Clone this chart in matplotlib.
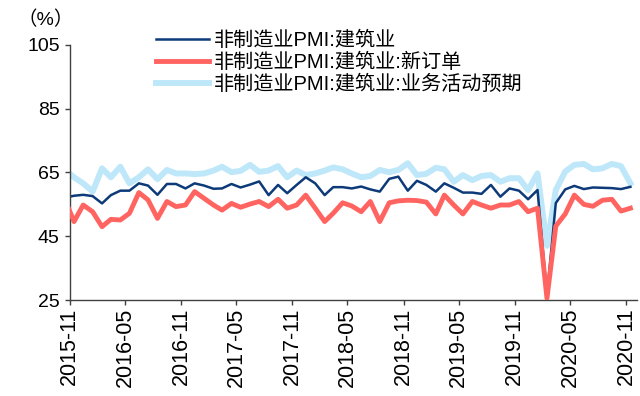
import matplotlib
matplotlib.use("Agg")
import matplotlib.pyplot as plt
import matplotlib.dates as mdates
import pandas as pd

plt.rcParams["font.family"] = ["Liberation Sans", "Noto Sans CJK SC", "DejaVu Sans"]

# 月度数据 2015-10 ~ 2020-11（首月落在坐标轴起点之前，被裁掉）
months = pd.date_range("2015-10-01", "2020-11-01", freq="MS")

pmi_build = [
    57.1,
    57.7, 58.0, 57.6, 55.3, 57.9, 59.3, 59.3, 61.6, 60.9, 58.0,
    61.4, 61.4, 60.0, 61.6, 60.9, 59.9, 60.0, 61.4, 60.3, 61.2,
    62.2, 57.9, 61.1, 58.5, 61.1, 63.5, 61.6, 57.9, 60.4, 60.4,
    60.0, 60.6, 59.7, 59.0, 63.0, 63.7, 59.3, 62.4, 61.1, 59.0,
    61.6, 60.2, 58.7, 58.7, 58.3, 61.1, 57.4, 60.0, 59.3, 56.6,
    59.5, 26.6, 55.4, 59.7, 60.8, 59.8, 60.3, 60.2, 60.1, 59.8,
    60.5,
]
new_orders = [
    56.8,
    49.6, 54.8, 52.7, 48.0, 50.3, 50.1, 52.2, 58.7, 56.4, 50.6,
    55.9, 54.3, 54.8, 59.0, 56.9, 54.8, 53.2, 55.3, 54.1, 55.1,
    55.9, 54.3, 56.6, 53.8, 54.8, 57.9, 53.8, 49.6, 52.2, 55.5,
    54.5, 52.7, 55.9, 49.6, 55.5, 56.1, 56.3, 56.2, 55.7, 52.0,
    57.9, 54.8, 52.0, 55.9, 54.8, 53.8, 54.8, 54.8, 55.9, 52.7,
    53.8, 25.5, 48.2, 52.0, 57.9, 55.0, 54.4, 56.3, 56.6, 52.9,
    53.8,
]
expectation = [
    65.9,
    63.5, 61.6, 59.0, 66.3, 63.5, 66.8, 61.6, 63.5, 66.0, 62.9,
    65.8, 64.7, 64.7, 64.5, 64.7, 65.6, 66.8, 65.1, 65.5, 67.4,
    65.2, 65.6, 67.0, 63.5, 65.6, 64.2, 64.7, 65.6, 66.6, 66.0,
    64.7, 63.5, 63.9, 65.8, 65.1, 65.8, 67.9, 64.2, 64.6, 66.5,
    66.0, 62.1, 64.2, 62.6, 63.9, 64.2, 62.1, 63.2, 63.2, 59.5,
    64.7, 42.0, 59.5, 65.3, 67.4, 67.7, 66.0, 66.3, 67.7, 67.0,
    61.6,
]

labels = [
    "非制造业PMI:建筑业",
    "非制造业PMI:建筑业:新订单",
    "非制造业PMI:建筑业:业务活动预期",
]
colors = ["#0D3A78", "#FF6461", "#BEE8FA"]

# 数据点放在月中，刻度放在月初
x = months + pd.Timedelta(days=14)
ticks = pd.date_range("2015-11-01", "2020-11-01", freq="6MS")

fig = plt.figure(figsize=(6.4, 3.96), dpi=100)
ax = fig.add_axes([0.109, 0.2424, 0.886, 0.6440])

l3, = ax.plot(x, expectation, color=colors[2], lw=4.3, zorder=1)
l1, = ax.plot(x, pmi_build, color=colors[0], lw=1.8, zorder=2)
l2, = ax.plot(x, new_orders, color=colors[1], lw=3.5, zorder=3)

ax.set_ylim(25, 105)
ax.set_yticks([25, 45, 65, 85, 105])
ax.set_xlim(pd.Timestamp("2015-11-01"), pd.Timestamp("2020-12-06"))
ax.set_xticks(ticks)
ax.xaxis.set_major_formatter(mdates.DateFormatter("%Y-%m"))
plt.setp(ax.get_xticklabels(), rotation=90)

for s in ["top", "right"]:
    ax.spines[s].set_visible(False)
for s in ["left", "bottom"]:
    ax.spines[s].set_color("#404040")
    ax.spines[s].set_linewidth(1.0)

ax.tick_params(axis="y", direction="out", length=3.6, width=1.0,
               color="#404040", labelsize=14, pad=3.6)
ax.tick_params(axis="x", direction="out", length=3.6, width=1.0,
               color="#404040", labelsize=15.5, pad=2)

fig.text(0.072, 0.95, "（%）", fontsize=14, ha="center", va="center")

ax.legend([l1, l2, l3], labels, loc="upper left",
          bbox_to_anchor=(0.222, 0.957), bbox_transform=fig.transFigure,
          frameon=False, prop={"size": 14.5, "weight": "light"},
          handlelength=2.6, handletextpad=0.25, labelspacing=0.12,
          borderaxespad=0.3)

fig.savefig("out.png", dpi=100)
